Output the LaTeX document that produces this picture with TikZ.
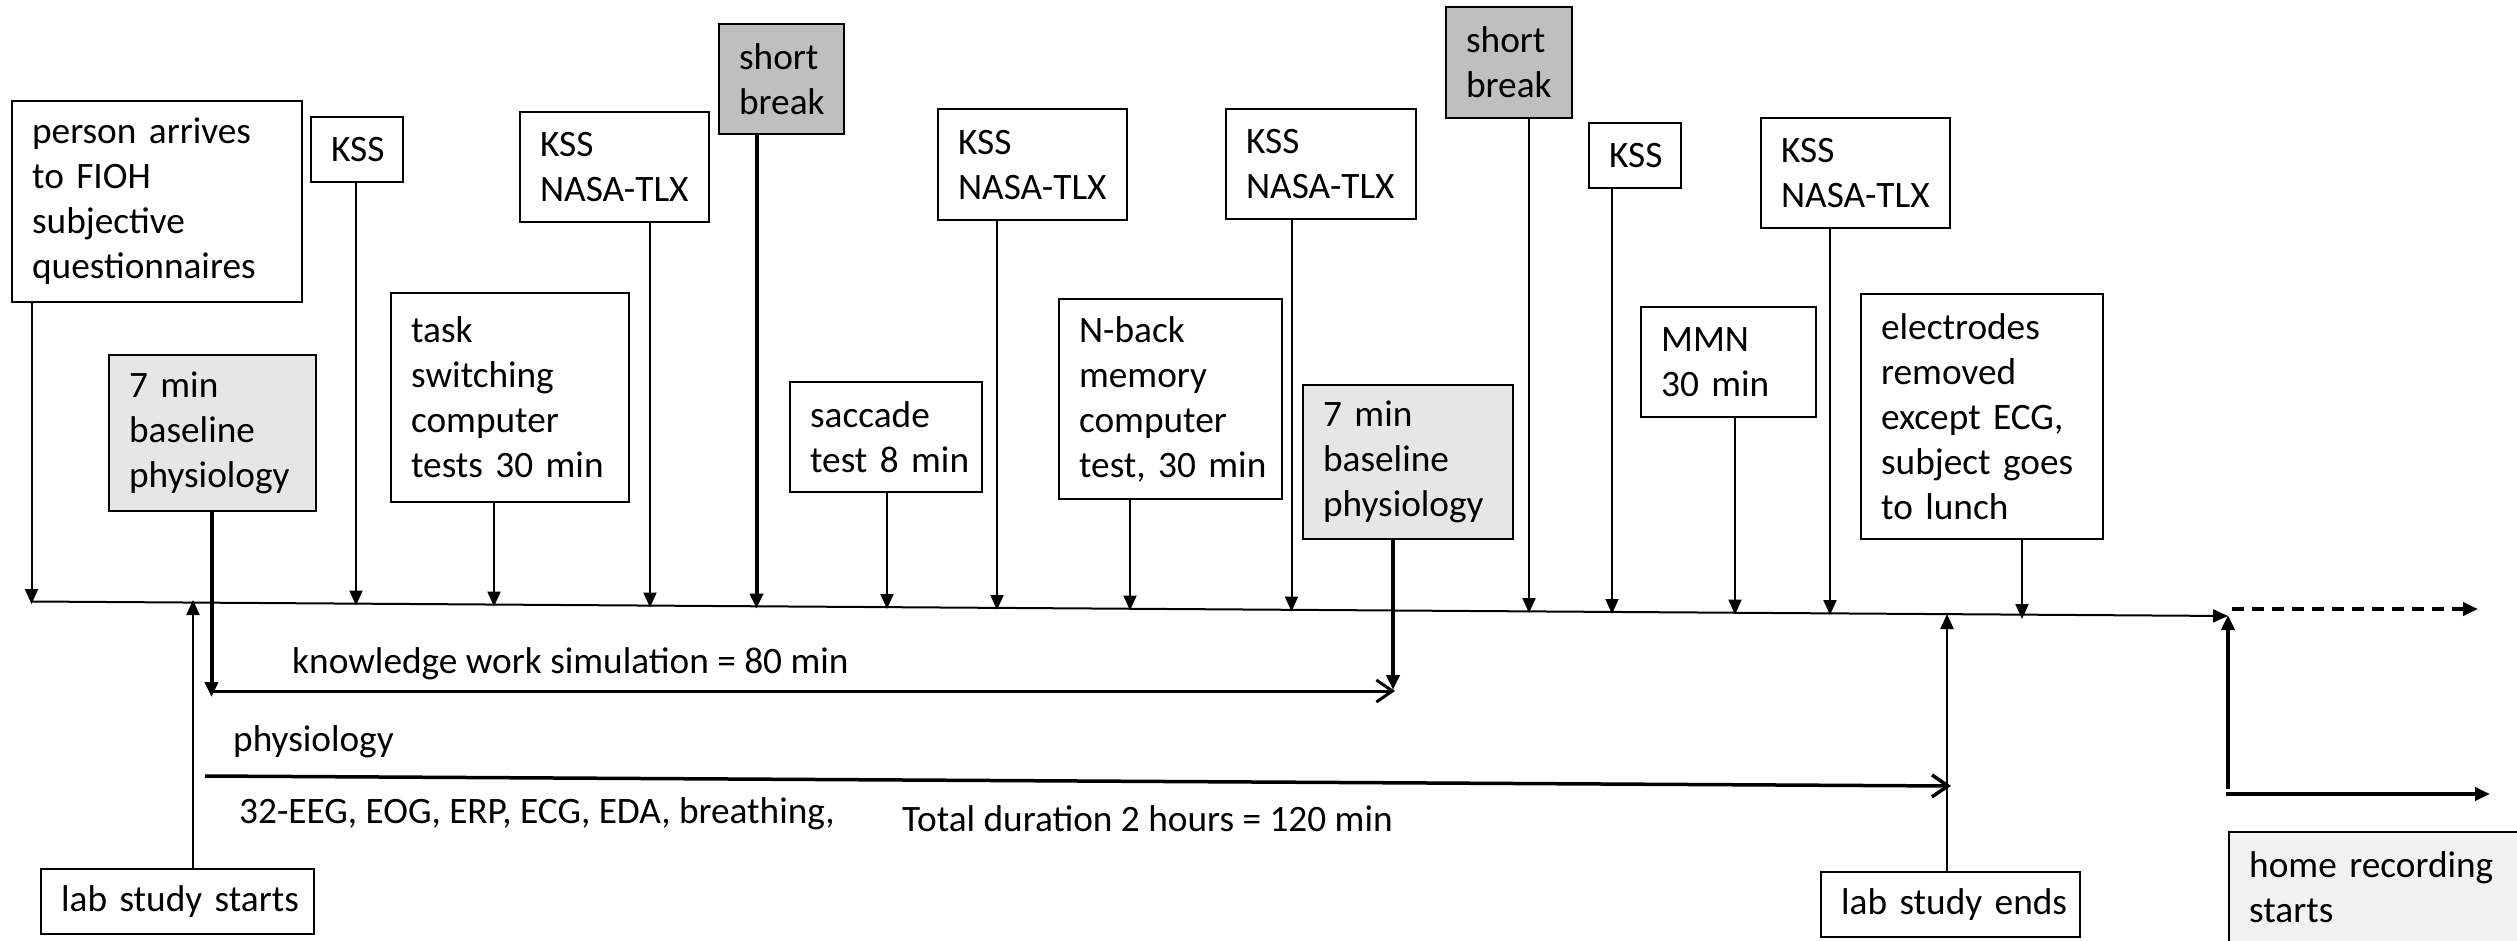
\documentclass[tikz,border=0pt]{standalone}
\usepackage{fontspec}
\setmainfont{Carlito}
\usetikzlibrary{arrows.meta,calc}
\definecolor{breakfill}{HTML}{BFBFBF}
\definecolor{basefill}{HTML}{E6E6E6}
\definecolor{homefill}{HTML}{F2F2F2}
\tikzset{
  rect/.code n args={4}{%
    \pgfmathsetmacro\rw{#3-#1}%
    \pgfmathsetmacro\rh{#4-#2}%
    \pgfmathsetmacro\tw{#3-#1-40}%
    \edef\tmp{\noexpand\tikzset{at={(#1,#2)}, anchor=north west, minimum width=\rw pt, minimum height=\rh pt, text width=\tw pt}}\tmp
  },
  txt/.style={font=\fontsize{37.3}{45}\selectfont},
  box/.style={txt, draw, line width=2.2pt, inner xsep=20pt, inner ysep=0pt, align=left},
  cbox/.style={box, align=center},
  brk/.style={box, fill=breakfill},
  base/.style={box, fill=basefill},
  lbl/.style={txt, inner sep=0pt, anchor=base west},
  arr/.style={line width=2pt, -{Triangle[length=15pt,width=13pt]}},
  arrthick/.style={line width=4pt, -{Triangle[length=15pt,width=13pt]}},
  barb/.style={-{Straight Barb[length=16pt,width=22pt]}},
}
\begin{document}
\begin{tikzpicture}[x=1pt,y=-1pt]
\useasboundingbox (0,0) rectangle (2517,941);
% boxes
\node[box, rect={11}{100}{301}{301}] (person) {\mbox{person arrives}\\\mbox{to FIOH}\\subjective\\questionnaires};
\node[box, rect={310}{116}{402}{181}] (kss1) {\mbox{KSS}};
\node[box, rect={519}{111}{708}{221}] (nasa1) {KSS\\\mbox{NASA-TLX}};
\node[brk, rect={718}{23}{843}{133}] (break1) {short\\break};
\node[base, rect={108}{354}{315}{510}] (base1) {\mbox{7 min}\\baseline\\physiology};
\node[box, rect={390}{292}{628}{501}] (task) {task\\switching\\computer\\\mbox{tests 30 min}};
\node[box, rect={789}{381}{981}{491}] (sacc) {saccade\\\mbox{test 8 min}};
\node[box, rect={937}{108}{1126}{219}] (nasa2) {KSS\\\mbox{NASA-TLX}};
\node[box, rect={1058}{298}{1281}{498}] (nback) {N-back\\memory\\computer\\\mbox{test, 30 min}};
\node[box, rect={1225}{108}{1415}{218}] (nasa3) {KSS\\\mbox{NASA-TLX}};
\node[base, rect={1302}{384}{1512}{538}] (base2) {\mbox{7 min}\\baseline\\physiology};
\node[brk, rect={1445}{6}{1571}{117}] (break2) {short\\break};
\node[box, rect={1588}{122}{1680}{187}] (kss3) {\mbox{KSS}};
\node[box, rect={1640}{306}{1815}{416}] (mmn) {MMN\\\mbox{30 min}};
\node[box, rect={1760}{117}{1949}{227}] (nasa4) {KSS\\\mbox{NASA-TLX}};
\node[box, rect={1860}{293}{2102}{538}] (elec) {electrodes\\removed\\\mbox{except ECG,}\\\mbox{subject goes}\\\mbox{to lunch}};
\node[cbox, rect={40}{868}{313}{933}] (start) {\mbox{lab study starts}};
\node[cbox, rect={1820}{871}{2079}{936}] (end) {\mbox{lab study ends}};
\node[txt, fill=homefill, inner xsep=20pt, inner ysep=0pt, align=left, rect={2229}{832}{2529}{942}] (home) {\mbox{home recording}\\starts};
\draw[line width=2.2pt] (home.south west) |- (home.north east);
% labels
\node[lbl] (kws) at (292,673) {knowledge work simulation = 80 min};
\node[lbl] (phys) at (233,751) {physiology};
\node[lbl] (eeg) at (239,823) {32-EEG, EOG, ERP, ECG, EDA, breathing,};
\node[lbl] (total) at (902,831.5) {Total duration 2 hours = 120 min};
% coordinates
\coordinate (tl0) at (31.5,601.5);
\coordinate (tl1) at (2228,616);
\coordinate (pPerson) at (31.5,604);
\coordinate (pKss1) at (356,605.5);
\coordinate (pTask) at (494,606.5);
\coordinate (pNasa1) at (650,607.5);
\coordinate (pBreak1) at (756.5,608.5);
\coordinate (pSacc) at (887,609);
\coordinate (pNasa2) at (997,610);
\coordinate (pNback) at (1130,610.5);
\coordinate (pNasa3) at (1291.5,611.5);
\coordinate (pBreak2) at (1529,613);
\coordinate (pKss3) at (1612,614);
\coordinate (pMmn) at (1735,614.5);
\coordinate (pNasa4) at (1830,615);
\coordinate (pElec) at (2022,619);
\coordinate (k0) at (211.5,697);
\coordinate (k1) at (211.5,691);
\coordinate (k2) at (1395,691);
\coordinate (k3) at (1393,690);
\coordinate (ph0) at (205,776);
\coordinate (ph1) at (1951,786);
\coordinate (ls) at (193,600);
\coordinate (le) at (1947,614);
\coordinate (d0) at (2232,609);
\coordinate (d1) at (2478,609);
\coordinate (hv0) at (2228,789);
\coordinate (hv1) at (2228,615);
\coordinate (hh0) at (2226,794);
\coordinate (hh1) at (2490,794);
% timeline
\draw[arr] (tl0) -- (tl1);
\draw[arrthick, dash pattern=on 12pt off 8pt] (d0) -- (d1);
% drops
\draw[arr] (person.south -| pPerson) -- (pPerson);
\draw[arr] (kss1.south -| pKss1) -- (pKss1);
\draw[arr] (task.south -| pTask) -- (pTask);
\draw[arr] (nasa1.south -| pNasa1) -- (pNasa1);
\draw[arrthick] (break1.south -| pBreak1) -- (pBreak1);
\draw[arr] (sacc.south -| pSacc) -- (pSacc);
\draw[arr] (nasa2.south -| pNasa2) -- (pNasa2);
\draw[arr] (nback.south -| pNback) -- (pNback);
\draw[arr] (nasa3.south -| pNasa3) -- (pNasa3);
\draw[arr] (break2.south -| pBreak2) -- (pBreak2);
\draw[arr] (kss3.south -| pKss3) -- (pKss3);
\draw[arr] (mmn.south -| pMmn) -- (pMmn);
\draw[arr] (nasa4.south -| pNasa4) -- (pNasa4);
\draw[arr] (elec.south -| pElec) -- (pElec);
% durations
\draw[arrthick] (base1.south -| k0) -- (k0);
\draw[line width=3pt, barb] (k1) -- (k2);
\draw[arrthick] (base2.south -| k3) -- (k3);
\draw[line width=3.5pt, barb] (ph0) -- (ph1);
% start / end
\draw[arr] (start.north -| ls) -- (ls);
\draw[arr] (end.north -| le) -- (le);
\draw[arrthick] (hv0) -- (hv1);
\draw[arrthick] (hh0) -- (hh1);
\end{tikzpicture}
\end{document}
